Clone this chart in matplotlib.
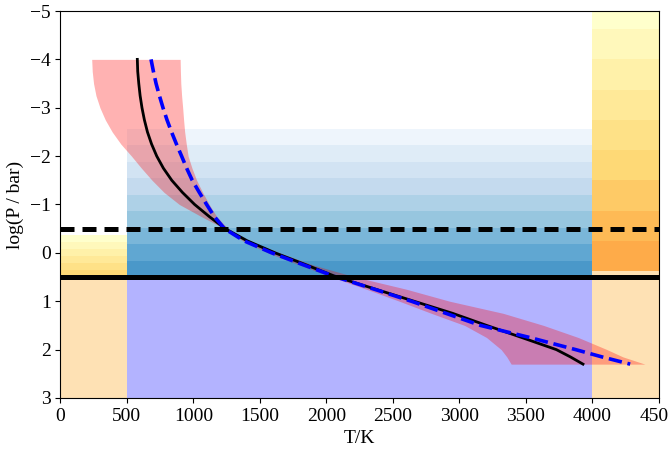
import numpy as np
import matplotlib
matplotlib.use("Agg")
import matplotlib.pyplot as plt

plt.rcParams['font.family'] = ['Liberation Serif', 'DejaVu Serif']
plt.rcParams['font.size'] = 14

# pressure grid (log P / bar) shared by all profiles
logp = [-4.0, -3.75, -3.5, -3.25, -3.0, -2.75, -2.5, -2.25, -2.0, -1.75, -1.5, -1.25,
        -1.0, -0.75, -0.5, -0.25, 0.0, 0.25, 0.5, 0.75, 1.0, 1.25, 1.5, 1.75,
        2.0, 2.15, 2.3]

# retrieved T-P profile (black) and input profile (blue dashed)
t_retrieved = [579, 582, 590, 600, 614, 632, 655, 686, 725, 775, 838, 918,
               1010, 1120, 1240, 1405, 1615, 1850, 2080, 2370, 2660, 2950, 3206, 3470,
               3730, 3835, 3930]
t_input = [682, 700, 720, 745, 772, 802, 836, 873, 912, 950, 992, 1045,
           1100, 1158, 1235, 1380, 1590, 1830, 2075, 2360, 2640, 2900, 3160, 3530,
           3875, 4072, 4285]

# 1-sigma envelope
t_low = [236, 240, 250, 268, 298, 338, 390, 455, 535, 610, 690, 780,
         895, 1060, 1235, 1370, 1560, 1800, 2040, 2300, 2550, 2790, 3040, 3205,
         3315, 3357, 3390]
t_high = [901, 903, 906, 912, 920, 927, 935, 947, 961, 990, 1025, 1070,
          1120, 1176, 1260, 1420, 1650, 1900, 2220, 2600, 2928, 3330, 3634, 3895,
          4111, 4230, 4396]

fig = plt.figure(figsize=(6.68, 4.49), dpi=100)
ax = fig.add_axes([0.0903, 0.1136, 0.8959, 0.8619])

# shaded contribution bands
def bands(x0, x1, y0, y1, cmap, c0, c1, n):
    edges = np.linspace(y0, y1, n + 1)
    cols = plt.get_cmap(cmap)(np.linspace(c0, c1, n))
    for i in range(n):
        ax.fill_between([x0, x1], edges[i], edges[i + 1], color=cols[i], lw=0, zorder=1)

bands(500, 4000, -2.56, 0.5, 'Blues', 0.05, 0.6, 9)
ax.fill_between([0, 500], 0.38, 3, color='#fee1b4', lw=0, zorder=1)
ax.fill_between([4000, 4500], 0.38, 3, color='#fee1b4', lw=0, zorder=1)
bands(0, 500, -0.36, 0.5, 'YlOrRd', 0.0, 0.25, 6)
bands(4000, 4500, -5.25, 0.38, 'YlOrRd', 0.0, 0.4, 9)
ax.fill_between([500, 4000], 0.5, 3, color='#b3b3ff', lw=0, zorder=1)

ax.fill_betweenx(logp, t_low, t_high, color='red', alpha=0.3, lw=0, zorder=2)
ax.plot(t_retrieved, logp, color='black', lw=2, zorder=3)
ax.plot(t_input, logp, color='blue', lw=2.6, ls='--', zorder=3)

ax.axhline(-0.5, color='black', lw=3.6, ls=(0, (2.8, 1.6)), zorder=4)
ax.axhline(0.5, color='black', lw=3.6, zorder=4)

ax.set_xlim(0, 4500)
ax.set_ylim(3, -5)
ax.set_xticks(np.arange(0, 4501, 500))
ax.set_yticks(np.arange(-5, 4, 1))
ax.set_xlabel('T/K')
ax.set_ylabel('log(P / bar)')

fig.savefig('out.png', dpi=100)
